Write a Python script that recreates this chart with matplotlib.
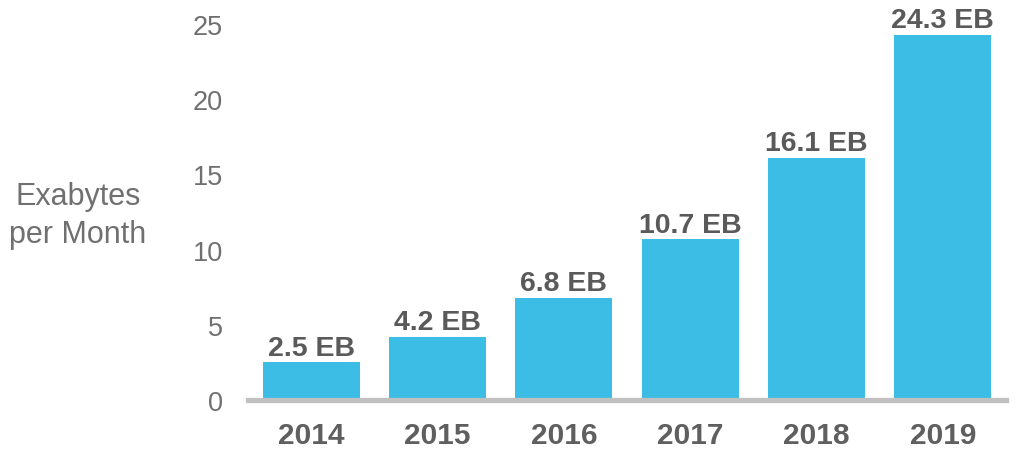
import matplotlib
matplotlib.use("Agg")
import matplotlib.pyplot as plt

years = ["2014", "2015", "2016", "2017", "2018", "2019"]
values = [2.5, 4.2, 6.8, 10.7, 16.1, 24.3]
labels = ["2.5 EB", "4.2 EB", "6.8 EB", "10.7 EB", "16.1 EB", "24.3 EB"]
yticks = [0, 5, 10, 15, 20, 25]

plt.rcParams['font.family'] = ['Liberation Sans', 'DejaVu Sans']

fig = plt.figure(figsize=(10.24, 4.52), dpi=100)
ax = fig.add_axes([248/1024, 51/452, 758/1024, 376/452])

x = list(range(len(years)))
bars = ax.bar(x, values, width=0.77, color="#3bbde5", zorder=2)

ax.set_xlim(-0.5, 5.5)
ax.set_ylim(0, 25)
ax.set_yticks(yticks)
ax.set_yticklabels([str(t) for t in yticks], fontsize=19.5, color="#707070")
ax.set_xticks(x)
ax.set_xticklabels(years, fontsize=21.5, fontweight="bold", color="#5f5f5f")
ax.tick_params(axis="y", length=0, pad=18)
ax.tick_params(axis="x", length=0, pad=15)

for s in ["top", "right", "left"]:
    ax.spines[s].set_visible(False)
ax.spines["bottom"].set_color("#c0c0c0")
ax.spines["bottom"].set_linewidth(3.8)
ax.spines["bottom"].set_zorder(3)

for xi, v, lab in zip(x, values, labels):
    ax.annotate(lab, (xi, v), xytext=(0, 1), textcoords="offset points",
                ha="center", va="bottom", fontsize=20.5, fontweight="bold",
                color="#5a5a5a", annotation_clip=False)

fig.text(78/1024, 1 - 216/452, "Exabytes\nper Month", ha="center", va="center",
         fontsize=22, color="#707070", linespacing=1.38)

fig.savefig("out.png", dpi=100, facecolor="white")
